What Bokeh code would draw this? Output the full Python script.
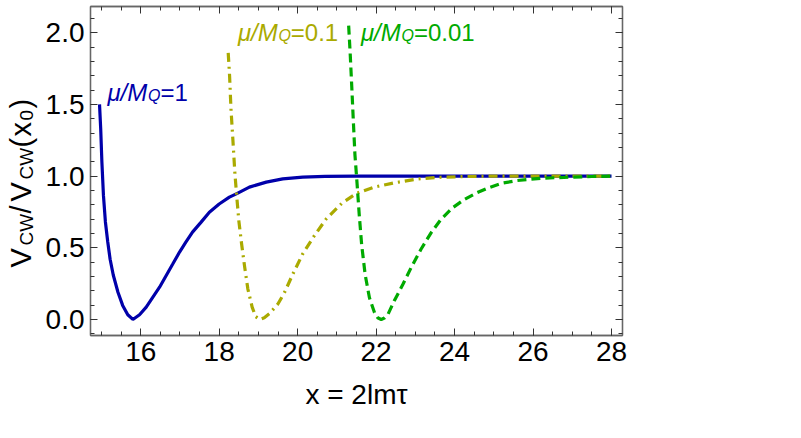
import math
from bokeh.plotting import figure
from bokeh.layouts import row
from bokeh.models import Label, LinearAxis, FixedTicker, Range1d, PrintfTickFormatter
from bokeh.core.properties import value
from bokeh.embed import file_html
from bokeh.resources import INLINE

# ---- data ----
blue_x = [14.95, 14.98, 15.01, 15.05, 15.10, 15.16, 15.22, 15.30, 15.42, 15.54, 15.67, 15.80,
          15.97, 16.14, 16.31, 16.48, 16.65, 16.82, 16.99, 17.15, 17.32, 17.54, 17.75, 18.00,
          18.26, 18.45, 18.77, 19.20, 19.62, 20.13, 20.70, 21.50, 22.50, 24.00, 26.00, 28.00]
blue_y = [1.50, 1.33, 1.10, 0.865, 0.68, 0.54, 0.42, 0.31, 0.19, 0.098, 0.033, 0.0,
          0.033, 0.086, 0.156, 0.225, 0.307, 0.388, 0.47, 0.539, 0.609, 0.679, 0.748, 0.805,
          0.853, 0.878, 0.923, 0.958, 0.981, 0.993, 0.998, 1.0, 1.0, 1.0, 1.0, 1.0]

yel_x = [18.23, 18.265, 18.30, 18.35, 18.40, 18.45, 18.50, 18.57, 18.65, 18.73, 18.84, 18.93,
         19.03, 19.15, 19.28, 19.50, 19.67, 19.88, 20.13, 20.43, 20.73, 21.13, 21.50, 21.95,
         22.46, 23.06, 23.65, 24.30, 25.00, 26.00, 28.00]
yel_y = [1.86, 1.70, 1.47, 1.25, 1.02, 0.85, 0.69, 0.53, 0.365, 0.214, 0.086, 0.02,
         0.0, 0.012, 0.04, 0.109, 0.191, 0.318, 0.458, 0.586, 0.702, 0.811, 0.88, 0.923,
         0.953, 0.98, 0.992, 0.997, 1.0, 1.0, 1.0]

gr_x = [21.30, 21.34, 21.38, 21.42, 21.46, 21.51, 21.57, 21.63, 21.72, 21.83, 21.96, 22.04,
        22.13, 22.21, 22.30, 22.46, 22.68, 22.89, 23.14, 23.40, 23.65, 23.95, 24.25, 24.58,
        24.88, 25.20, 25.60, 26.20, 26.90, 27.50, 28.00]
gr_y = [2.05, 1.85, 1.62, 1.38, 1.15, 0.965, 0.73, 0.525, 0.314, 0.151, 0.047, 0.012,
        0.0, 0.01, 0.035, 0.128, 0.244, 0.36, 0.488, 0.604, 0.697, 0.779, 0.837, 0.885,
        0.92, 0.95, 0.969, 0.985, 0.992, 0.997, 1.0]

x_major = [16, 18, 20, 22, 24, 26, 28]
y_major = [0.0, 0.5, 1.0, 1.5, 2.0]
x_minor = [14.5 + 0.5 * i for i in range(29)]
y_minor = [round(-0.1 + 0.1 * i, 2) for i in range(24)]

series_labels = ["1", "0.1", "0.01"]
series_colors = ["#0000AA", "#AAAA00", "#00AA00"]
x_title = "x = 2lmτ"

FONT = "Liberation Sans"
FRAME = "#666666"
LEFT_W = 42
TOP, BOTTOM = 6, 103
H = 438

# ---- main figure ----
p = figure(width=801 - LEFT_W, height=H, output_backend="svg", toolbar_location=None,
           x_range=Range1d(14.72, 28.28), y_range=Range1d(-0.112, 2.183),
           x_axis_location=None, y_axis_location=None,
           min_border_left=89 - LEFT_W, min_border_right=179, min_border_top=TOP,
           min_border_bottom=BOTTOM)
p.xgrid.visible = False
p.ygrid.visible = False
p.background_fill_color = "white"
p.border_fill_color = "white"
p.outline_line_color = FRAME
p.outline_line_width = 1.3

bottom = LinearAxis()
left = LinearAxis()
top = LinearAxis()
right = LinearAxis()
p.add_layout(bottom, "below")
p.add_layout(left, "left")
p.add_layout(top, "above")
p.add_layout(right, "right")


def style(ax, ticks, minor, labels):
    ax.ticker = FixedTicker(ticks=ticks, minor_ticks=minor)
    ax.axis_line_color = FRAME
    ax.axis_line_width = 1.3
    ax.major_tick_in = 7
    ax.major_tick_out = 0
    ax.minor_tick_in = 4
    ax.minor_tick_out = 0
    ax.major_tick_line_color = "#333333"
    ax.minor_tick_line_color = "#333333"
    ax.major_tick_line_width = 1
    ax.minor_tick_line_width = 1
    if labels:
        ax.major_label_text_font = FONT
        ax.major_label_text_font_size = "28px"
        ax.major_label_text_color = "black"
        ax.major_label_standoff = 6
    else:
        ax.major_label_text_font_size = "0px"
        ax.major_label_text_alpha = 0
        ax.major_label_standoff = 0


style(bottom, x_major, x_minor, True)
style(left, y_major, y_minor, True)
style(top, x_major, x_minor, False)
style(right, y_major, y_minor, False)
left.formatter = PrintfTickFormatter(format="%.1f")

bottom.axis_label = x_title
bottom.axis_label_text_font = FONT
bottom.axis_label_text_font_style = "normal"
bottom.axis_label_text_font_size = "28px"
bottom.axis_label_text_color = "black"
bottom.axis_label_standoff = 15

# ---- curves ----
p.line(blue_x, blue_y, line_color=series_colors[0], line_width=3.2)
p.line(yel_x, yel_y, line_color=series_colors[1], line_width=3.2, line_dash="9 5 2 5")
p.line(gr_x, gr_y, line_color=series_colors[2], line_width=3.2, line_dash="9 5")

# ---- rich-text curve labels built from pieces ----
W = {"V": 0.667, "C": 0.722, "W": 0.944, "/": 0.278, "(": 0.333, ")": 0.333, "x": 0.5,
     "0": 0.556, "1": 0.556, ".": 0.278, "μ": 0.576, "M": 0.833, "Q": 0.778, "=": 0.584}


def tw(s, size):
    return sum(W.get(c, 0.556) for c in s) * size


def mu_label(x, y, val, color):
    main, sub = 24, 16
    pieces = [("μ/M", "italic", main, 0), ("Q", "italic", sub, -3),
              ("=" + val, "normal", main, 0)]
    off = 0.0
    for txt, style_, size, dy in pieces:
        p.add_layout(Label(x=x, y=y, x_offset=off, y_offset=dy, text=txt,
                           text_font=FONT, text_font_style=style_, text_font_size=f"{size}px",
                           text_color=color, text_align="left", text_baseline="alphabetic"))
        off += tw(txt, size)


label_pos = [(15.152, 1.584), (18.477, 2.002), (21.614, 2.002)]
for (lx, ly), val, col in zip(label_pos, series_labels, series_colors):
    mu_label(lx, ly, val, col)

# ---- narrow side figure holding the rotated y-axis title  V_CW / V_CW(x_0) ----
# its frame has the same vertical extent as the main frame; the y range is
# expressed as "pixels from the bottom of the page" so the pieces can be placed there
side = figure(width=LEFT_W, height=H, output_backend="svg", toolbar_location=None,
              x_range=Range1d(0, LEFT_W), y_range=Range1d(BOTTOM, H - TOP),
              x_axis_location=None, y_axis_location=None,
              min_border_left=0, min_border_right=0,
              min_border_top=TOP, min_border_bottom=BOTTOM)
side.xgrid.visible = False
side.ygrid.visible = False
side.outline_line_color = None
side.background_fill_color = "white"
side.border_fill_color = "white"

# (text, font size, start along the axis measured from the top of the page, sub shift)
ylab_pieces = [("V", 29, 267, 0), ("CW", 19, 245, 6), ("/", 29, 213, 0), ("V", 29, 201, 0),
               ("CW", 19, 179, 6), ("(", 29, 147, 0), ("x", 29, 136, 0), ("0", 19, 120, 6),
               (")", 29, 108, 0)]
for txt, size, start, down in ylab_pieces:
    side.text(x=[20 + down], y=[H - start], text=[txt], angle=math.pi / 2,
              text_font=value(FONT), text_font_size=f"{size}px", text_color="black",
              text_align="left", text_baseline="alphabetic")

layout = row(side, p, spacing=0)
open("out.html", "w").write(file_html(layout, INLINE))
